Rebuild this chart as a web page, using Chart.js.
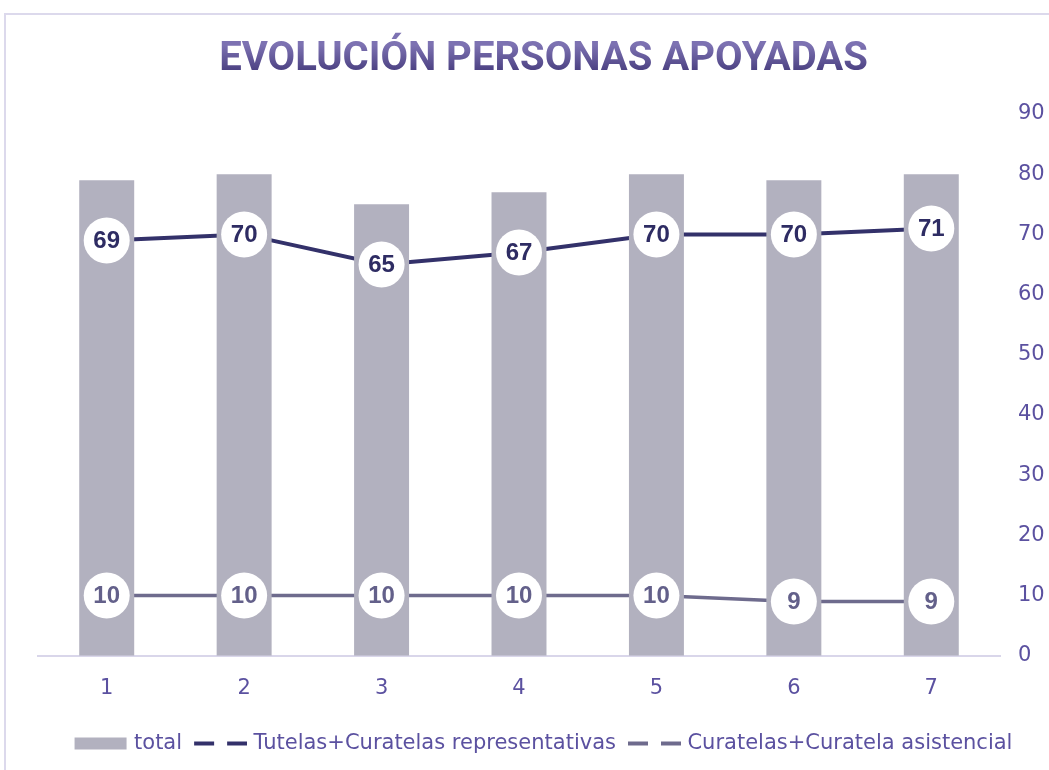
<!DOCTYPE html>
<html>
<head>
<meta charset="utf-8">
<script src="https://cdn.jsdelivr.net/npm/chart.js@4"></script>
<style>
html,body{margin:0;padding:0;background:#fff;}
#wrap{position:relative;width:1049px;height:770px;overflow:hidden;}
#frame{position:absolute;left:4px;top:13px;width:1100px;height:800px;border-left:2px solid #dcd9ec;border-top:2px solid #dcd9ec;box-sizing:border-box;}
canvas{position:absolute;left:0;top:0;}
</style>
</head>
<body>
<div id="wrap">
<div id="frame"></div>
<canvas id="c" width="1049" height="770"></canvas>
</div>
<script>
const categories = ['1','2','3','4','5','6','7'];
const totalValues = [79, 80, 75, 77, 80, 79, 80];
const tutelasValues = [69, 70, 65, 67, 70, 70, 71];
const curatelasValues = [10, 10, 10, 10, 10, 9, 9];
const seriesNames = ['total', 'Tutelas+Curatelas representativas', 'Curatelas+Curatela asistencial'];

const LABEL_FONT = "'Liberation Sans', Arial, sans-serif";
const TEXT_FONT = "'DejaVu Sans', sans-serif";
const TICK_COLOR = '#5b51a0';

const canvas = document.getElementById('c');
const mainCtx = canvas.getContext('2d');
// title text is drawn around a translated origin (its vertical centre)
const titleGrad = mainCtx.createLinearGradient(0, -15, 0, 15);
titleGrad.addColorStop(0, '#7d72b2');
titleGrad.addColorStop(1, '#43397a');

function legendSymbol(kind, color) {
  const c = document.createElement('canvas');
  c.width = 57; c.height = 16;
  const x = c.getContext('2d');
  x.fillStyle = color;
  if (kind === 'rect') {
    x.fillRect(4, 2, 52, 12);
  } else {
    x.fillRect(4, 6, 20, 4);
    x.fillRect(37, 6, 20, 4);
  }
  return c;
}

const labelPlugin = {
  id: 'bubbleLabels',
  afterDatasetsDraw(chart) {
    const ctx = chart.ctx;
    [1, 2].forEach(di => {
      const meta = chart.getDatasetMeta(di);
      const ds = chart.data.datasets[di];
      meta.data.forEach((pt, i) => {
        ctx.save();
        ctx.beginPath();
        ctx.ellipse(pt.x, pt.y, 23, 23, 0, 0, Math.PI * 2);
        ctx.fillStyle = '#ffffff';
        ctx.fill();
        ctx.font = "bold 24px " + LABEL_FONT;
        ctx.fillStyle = ds.labelColor;
        ctx.textAlign = 'center';
        ctx.textBaseline = 'middle';
        ctx.fillText(String(ds.data[i]), pt.x, pt.y + 1);
        ctx.restore();
      });
    });
  }
};

new Chart(canvas, {
  type: 'bar',
  data: {
    labels: categories,
    datasets: [
      {
        label: seriesNames[0],
        data: totalValues,
        backgroundColor: '#b2b1bf',
        barPercentage: 0.4,
        categoryPercentage: 1.0,
        legendSymbol: legendSymbol('rect', '#b2b1bf')
      },
      {
        type: 'line',
        label: seriesNames[1],
        data: tutelasValues,
        borderColor: '#33316a',
        backgroundColor: '#33316a',
        borderWidth: 4,
        pointRadius: 0,
        tension: 0,
        labelColor: '#2e2c63',
        legendSymbol: legendSymbol('line', '#33316a')
      },
      {
        type: 'line',
        label: seriesNames[2],
        data: curatelasValues,
        borderColor: '#6e6b8d',
        backgroundColor: '#6e6b8d',
        borderWidth: 3.5,
        pointRadius: 0,
        tension: 0,
        labelColor: '#63608a',
        legendSymbol: legendSymbol('line', '#6e6b8d')
      }
    ]
  },
  options: {
    responsive: false,
    animation: false,
    layout: { padding: { left: 38, right: 0, top: 0, bottom: 6 } },
    plugins: {
      title: {
        display: true,
        text: 'EVOLUCIÓN PERSONAS APOYADAS',
        color: titleGrad,
        font: { family: "Roboto, 'Open Sans', sans-serif", size: 40, weight: 'bold' },
        padding: { top: 36, bottom: 30 }
      },
      legend: {
        position: 'bottom',
        align: 'center',
        labels: {
          color: TICK_COLOR,
          font: { family: TEXT_FONT, size: 21 },
          usePointStyle: true,
          pointStyleWidth: 49,
          boxWidth: 49,
          boxHeight: 16,
          padding: 12,
          sort: (a, b) => a.datasetIndex - b.datasetIndex,
          generateLabels(chart) {
            return chart.data.datasets.map((ds, i) => ({
              text: ds.label,
              datasetIndex: i,
              fillStyle: ds.backgroundColor,
              strokeStyle: ds.backgroundColor,
              lineWidth: 0,
              pointStyle: ds.legendSymbol,
              fontColor: TICK_COLOR,
              hidden: false
            }));
          }
        }
      },
      tooltip: { enabled: false }
    },
    scales: {
      x: {
        grid: { display: false, drawTicks: false },
        border: { display: true, color: '#d9d6ea', width: 2 },
        ticks: { color: TICK_COLOR, font: { family: TEXT_FONT, size: 21 }, padding: 20 }
      },
      y: {
        position: 'right',
        min: 0,
        max: 90,
        grid: { display: false, drawTicks: false },
        border: { display: false },
        afterFit(scale) { scale.width = 49; },
        ticks: { stepSize: 10, color: TICK_COLOR, font: { family: TEXT_FONT, size: 21 }, padding: 18 }
      }
    }
  },
  plugins: [labelPlugin]
});
</script>
</body>
</html>
